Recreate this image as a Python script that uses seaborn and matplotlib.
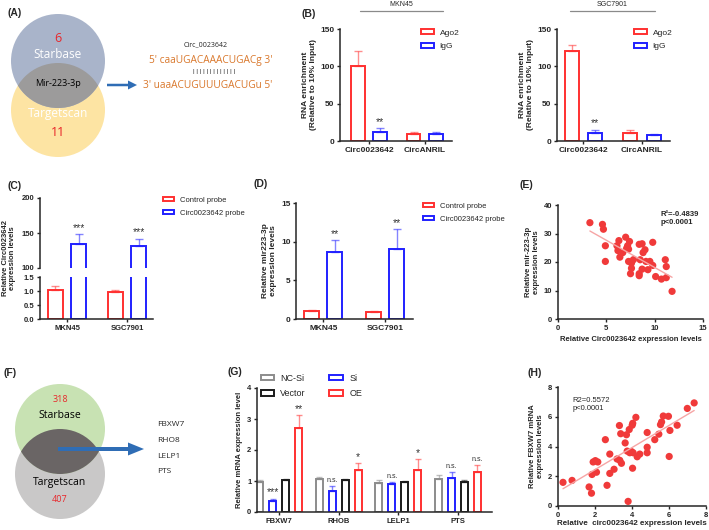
"""Composite figure: circ0023642 / miR-223-3p / FBXW7 panels."""

import matplotlib

matplotlib.use("Agg")

import matplotlib.pyplot as plt
import pandas as pd
import seaborn as sns
from matplotlib.patches import Circle, FancyArrow, Patch

FIG_W, FIG_H = 709, 530
RED = "#FF3030"
BLUE = "#2020FF"
GREY = "#8C8C8C"
BLACK = "#1A1A1A"
DOT = "#F03A3A"
FIT = "#F6A5A5"

# (A) Venn for miR prediction
venn_a_counts = [6, 11]
venn_a_sets = ["Starbase", "Targetscan"]
venn_a_shared = "Mir-223-3p"

# (B) RIP, Ago2 vs IgG
rip_targets = ["Circ0023642", "CircANRIL"]
rip_groups = ["Ago2", "IgG"]
rip_mkn45_ago2 = [101, 10]
rip_mkn45_ago2_err = [19, 2]
rip_mkn45_igg = [12, 9]
rip_mkn45_igg_err = [5, 3]
rip_sgc_ago2 = [121, 11]
rip_sgc_ago2_err = [8, 4]
rip_sgc_igg = [11, 8]
rip_sgc_igg_err = [4, 2]

# (C)/(D) pull-down
cell_lines = ["MKN45", "SGC7901"]
probe_groups = ["Control probe", "Circ0023642 probe"]
circ_control = [1.02, 0.97]
circ_control_err = [0.16, 0.05]
circ_probe = [135, 131]
circ_probe_err = [13, 11]
mir_control = [1.0, 0.9]
mir_control_err = [0.2, 0.1]
mir_probe = [8.6, 9.0]
mir_probe_err = [1.6, 2.6]

# (E) correlation circ vs mir-223-3p
e_circ = [3.3, 4.6, 4.7, 4.9, 4.9, 6.3, 6.1, 6.2, 6.4, 6.7, 7.0, 7.2, 7.3, 7.1,
          7.4, 7.3, 7.6, 7.5, 7.6, 7.8, 8.4, 8.7, 8.5, 8.8, 9.0, 8.7, 8.4, 8.4,
          9.1, 9.3, 9.5, 9.8, 9.8, 10.1, 11.1, 11.2, 10.7, 11.2, 11.8]
e_mir = [33.8, 33.2, 31.5, 25.7, 20.2, 27.5, 25.7, 24.0, 21.7, 23.3, 28.7, 25.7,
         24.5, 24.8, 27.2, 20.2, 19.6, 15.9, 17.8, 20.8, 26.2, 26.4, 20.8, 23.3,
         24.3, 17.5, 15.9, 15.2, 20.2, 17.3, 20.2, 26.9, 18.8, 14.9, 20.8, 18.4,
         14.0, 14.5, 9.7]

# (F) Venn for target genes
venn_f_counts = [318, 407]
target_genes = ["FBXW7", "RHO8", "LELP1", "PTS"]

# (G) qPCR of candidate targets
genes = ["FBXW7", "RHOB", "LELP1", "PTS"]
g_groups = ["NC-Si", "Si", "Vector", "OE"]
g_ncsi = [0.97, 1.05, 0.95, 1.07]
g_ncsi_err = [0.06, 0.08, 0.08, 0.12]
g_si = [0.35, 0.69, 0.89, 1.10]
g_si_err = [0.08, 0.16, 0.09, 0.20]
g_vector = [1.03, 1.03, 0.97, 0.97]
g_vector_err = [0.05, 0.04, 0.03, 0.05]
g_oe = [2.70, 1.34, 1.36, 1.29]
g_oe_err = [0.43, 0.23, 0.34, 0.23]
g_si_marks = ["***", "n.s.", "n.s.", "n.s."]
g_oe_marks = ["**", "*", "*", "n.s."]

# (H) correlation circ vs FBXW7
h_circ = [0.27, 0.76, 1.68, 1.81, 1.84, 1.90, 2.02, 2.15, 2.08, 2.56, 2.65, 2.80,
          2.80, 3.03, 3.19, 3.34, 3.43, 3.32, 3.39, 3.63, 3.70, 3.74, 3.79, 3.85,
          3.88, 3.97, 4.01, 4.04, 4.03, 4.06, 4.21, 4.28, 4.42, 4.82, 4.82, 4.82,
          5.23, 5.45, 5.54, 5.60, 5.69, 5.97, 6.01, 6.05, 6.44, 6.99, 7.36]
h_fbxw7 = [1.59, 1.72, 1.28, 0.86, 2.12, 2.96, 3.05, 2.96, 2.27, 4.46, 1.39, 3.49,
           2.19, 2.47, 3.16, 3.07, 2.87, 5.41, 4.86, 4.24, 4.79, 3.69, 0.31, 5.14,
           3.58, 3.66, 5.43, 5.56, 2.54, 3.58, 5.96, 3.31, 3.49, 4.94, 3.95, 3.58,
           4.46, 4.83, 5.47, 5.65, 6.05, 6.03, 3.33, 5.08, 5.43, 6.56, 6.93]


def px_rect(x0, y0, x1, y1):
    return [x0 / FIG_W, 1 - y1 / FIG_H, (x1 - x0) / FIG_W, (y1 - y0) / FIG_H]


def bar_frame(categories, groups, values, errors):
    rows = []
    for group, vals, errs in zip(groups, values, errors):
        for cat, val, err in zip(categories, vals, errs):
            rows.append({"category": cat, "group": group, "value": val, "err": err})
    return pd.DataFrame(rows)


def style_axis(ax, labelsize=5.5):
    sns.despine(ax=ax)
    for side in ("left", "bottom"):
        ax.spines[side].set_linewidth(1.1)
    ax.tick_params(length=2.5, width=1, labelsize=labelsize, pad=1.5)
    for label in ax.get_xticklabels() + ax.get_yticklabels():
        label.set_fontweight("bold")
    ax.set_facecolor("none")


def draw_bars(ax, frame, palette, width, gap, capsize=2.5):
    groups = list(palette)
    categories = list(dict.fromkeys(frame["category"]))
    sns.barplot(data=frame, x="category", y="value", hue="group", order=categories,
                hue_order=groups, palette=palette, fill=False, linewidth=1.4,
                width=width, gap=gap, errorbar=None, legend=False, ax=ax)
    positions = {}
    for group, container in zip(groups, ax.containers):
        sub = frame[frame["group"] == group].set_index("category").loc[categories]
        for bar, (cat, row) in zip(container, sub.iterrows()):
            x = bar.get_x() + bar.get_width() / 2
            positions[(cat, group)] = (x, row["value"] + row["err"])
            ax.errorbar(x, row["value"], yerr=[[0], [row["err"]]], fmt="none",
                        ecolor=palette[group], alpha=0.55, elinewidth=1,
                        capsize=capsize, capthick=1)
    ax.set_xlabel("")
    ax.set_ylabel("")
    return positions


def mark(ax, pos, text):
    # asterisks sit low in the font, so they get a bigger size than "n.s."
    size = 5 if text == "n.s." else 7.5
    ax.annotate(text, pos, xytext=(0, 1), textcoords="offset points",
                ha="center", va="bottom", fontsize=size, color="#333333")


def bar_legend(ax, canvas, labels, colors, anchor, fontsize=5.5, ncol=1, colspace=2.0):
    handles = [Patch(facecolor="white", edgecolor=c, linewidth=1.4) for c in colors]
    ax.legend(handles, labels, loc="upper left", bbox_to_anchor=anchor,
              bbox_transform=canvas.transData, frameon=False, borderpad=0,
              fontsize=fontsize, handlelength=1.5, handleheight=0.55,
              handletextpad=0.7, labelspacing=0.75, ncol=ncol, columnspacing=colspace)


sns.set_style("ticks")
plt.rcParams["font.family"] = ["Liberation Sans", "DejaVu Sans"]
plt.rcParams["axes.labelweight"] = "bold"

fig = plt.figure(figsize=(FIG_W / 100, FIG_H / 100), dpi=100)
canvas = fig.add_axes([0, 0, 1, 1], zorder=10)
canvas.set_xlim(0, FIG_W)
canvas.set_ylim(FIG_H, 0)
canvas.axis("off")
canvas.patch.set_visible(False)

# ---- (B) RIP
rip_palette = {"Ago2": RED, "IgG": BLUE}
for rect, ago, ago_err, igg, igg_err, xlim, anchor in [
    (px_rect(340, 29, 452, 141), rip_mkn45_ago2, rip_mkn45_ago2_err,
     rip_mkn45_igg, rip_mkn45_igg_err, (-0.52, 1.49), (417, 25)),
    (px_rect(557, 29, 670, 141), rip_sgc_ago2, rip_sgc_ago2_err,
     rip_sgc_igg, rip_sgc_igg_err, (-0.45, 1.48), (630, 25)),
]:
    ax = fig.add_axes(rect)
    frame = bar_frame(rip_targets, rip_groups, [ago, igg], [ago_err, igg_err])
    pos = draw_bars(ax, frame, rip_palette, width=0.8, gap=0.4, capsize=3)
    mark(ax, pos[("Circ0023642", "IgG")], "**")
    ax.set_xlim(*xlim)
    ax.set_ylim(0, 150)
    ax.set_yticks([0, 50, 100, 150])
    ax.set_ylabel("RNA enrichment\n(Relative to 10% Input)", fontsize=6, labelpad=2)
    style_axis(ax, 6)
    bar_legend(ax, canvas, rip_groups, [RED, BLUE], anchor, fontsize=6)

# ---- (C) broken-axis pull-down of circRNA
probe_palette = {"Control probe": RED, "Circ0023642 probe": BLUE}
circ_frame = bar_frame(cell_lines, probe_groups, [circ_control, circ_probe],
                       [circ_control_err, circ_probe_err])
ax_top = fig.add_axes(px_rect(40, 198, 153, 268))
ax_low = fig.add_axes(px_rect(40, 277, 153, 319))
pos = draw_bars(ax_top, circ_frame, probe_palette, width=0.78, gap=0.36, capsize=3)
draw_bars(ax_low, circ_frame, probe_palette, width=0.78, gap=0.36, capsize=3)
for line in cell_lines:
    mark(ax_top, pos[(line, "Circ0023642 probe")], "***")
ax_top.set_ylim(100, 200)
ax_top.set_yticks([100, 150, 200])
ax_low.set_ylim(0, 1.5)
ax_low.set_yticks([0, 0.5, 1.0, 1.5])
ax_low.set_yticklabels(["0.0", "0.5", "1.0", "1.5"])
for ax in (ax_top, ax_low):
    ax.set_xlim(-0.45, 1.43)
style_axis(ax_low)
style_axis(ax_top)
ax_top.spines["bottom"].set_visible(False)
ax_top.tick_params(axis="x", bottom=False, labelbottom=False)
canvas.text(9, 258, "Relative Circ0023642\nexpression levels", rotation=90,
            ha="center", va="center", fontsize=5.5, fontweight="bold", linespacing=1.1)
bar_legend(ax_low, canvas, probe_groups, [RED, BLUE], (159, 193))

# ---- (D) pull-down of miR
mir_frame = bar_frame(cell_lines, probe_groups, [mir_control, mir_probe],
                      [mir_control_err, mir_probe_err])
ax = fig.add_axes(px_rect(296, 203, 413, 319))
pos = draw_bars(ax, mir_frame, probe_palette, width=0.74, gap=0.35, capsize=3)
for line in cell_lines:
    mark(ax, pos[(line, "Circ0023642 probe")], "**")
ax.set_xlim(-0.44, 1.45)
ax.set_ylim(0, 15)
ax.set_yticks([0, 5, 10, 15])
ax.set_ylabel("Relative mir223-3p\nexpression levels", fontsize=6, labelpad=3)
style_axis(ax, 6)
bar_legend(ax, canvas, probe_groups, [RED, BLUE], (419, 199))

# ---- (E) correlation
ax = fig.add_axes(px_rect(558, 205, 703, 319))
sns.scatterplot(x=e_circ, y=e_mir, color=DOT, s=27, edgecolor="none", ax=ax)
sns.regplot(x=e_circ, y=e_mir, scatter=False, ci=None, color=FIT,
            line_kws={"lw": 1}, ax=ax)
ax.set_xlim(0, 15)
ax.set_ylim(0, 40)
ax.set_xticks([0, 5, 10, 15])
ax.set_yticks([0, 10, 20, 30, 40])
ax.set_xlabel("Relative Circ0023642 expression levels", fontsize=5.5, labelpad=3)
ax.set_ylabel("Relative mir-223-3p\nexpression levels", fontsize=5.5, labelpad=3)
style_axis(ax)
ax.text(0.71, 0.95, "R\u00b2=-0.4839\np<0.0001", transform=ax.transAxes, ha="left",
        va="top", fontsize=5.5, fontweight="bold", linespacing=1.2)

# ---- (G) qPCR of targets
g_palette = {"NC-Si": GREY, "Si": BLUE, "Vector": BLACK, "OE": RED}
g_frame = bar_frame(genes, g_groups, [g_ncsi, g_si, g_vector, g_oe],
                    [g_ncsi_err, g_si_err, g_vector_err, g_oe_err])
ax = fig.add_axes(px_rect(257, 388, 492, 512))
pos = draw_bars(ax, g_frame, g_palette, width=0.87, gap=0.46, capsize=2)
for gene, si_mark, oe_mark in zip(genes, g_si_marks, g_oe_marks):
    mark(ax, pos[(gene, "Si")], si_mark)
    mark(ax, pos[(gene, "OE")], oe_mark)
ax.set_xlim(-0.37, 3.57)
ax.set_ylim(0, 4)
ax.set_yticks([0, 1, 2, 3, 4])
ax.set_ylabel("Relative mRNA expression level", fontsize=5.5, labelpad=3)
style_axis(ax)
bar_legend(ax, canvas, ["NC-Si", "Vector", "Si", "OE"], [GREY, BLACK, BLUE, RED],
           (256, 369), fontsize=6.5, ncol=2, colspace=2.6)

# ---- (H) correlation
ax = fig.add_axes(px_rect(558, 387, 706, 506))
sns.scatterplot(x=h_circ, y=h_fbxw7, color=DOT, s=27, edgecolor="none", ax=ax)
sns.regplot(x=h_circ, y=h_fbxw7, scatter=False, ci=None, color=FIT,
            line_kws={"lw": 1}, ax=ax)
ax.set_xlim(0, 8)
ax.set_ylim(0, 8)
ax.set_xticks([0, 2, 4, 6, 8])
ax.set_yticks([0, 2, 4, 6, 8])
ax.set_xlabel("Relative  circ0023642 expression levels", fontsize=5.8, labelpad=1)
ax.set_ylabel("Relative FBXW7 mRNA\nexpression levels", fontsize=5.5, labelpad=3)
style_axis(ax)
ax.text(0.1, 0.92, "R2=0.5572\np<0.0001", transform=ax.transAxes, ha="left",
        va="top", fontsize=5.5, linespacing=1.2)

# ---- (A) Venn + binding site
venn_font = ["Open Sans", "DejaVu Sans"]
top = Circle((58, 61), 47, color="#A9B4CA", lw=0)
low = Circle((58, 110), 47, color="#FDE4A3", lw=0)
canvas.add_patch(low)
canvas.add_patch(top)
both = Circle((58, 110), 47, color="#9C9B9B", lw=0)
canvas.add_patch(both)
both.set_clip_path(top)
canvas.text(58, 38, str(venn_a_counts[0]), color="#E8262A", fontsize=9, ha="center", va="center", family=venn_font)
canvas.text(58, 55, venn_a_sets[0], color="white", fontsize=8.5, ha="center", va="center", family=venn_font)
canvas.text(58, 84, venn_a_shared, color="black", fontsize=6.5, ha="center", va="center", family=venn_font)
canvas.text(58, 114, venn_a_sets[1], color="white", fontsize=8.5, ha="center", va="center", family=venn_font)
canvas.text(58, 132, str(venn_a_counts[1]), color="#E8262A", fontsize=9, ha="center", va="center", family=venn_font)
canvas.add_patch(FancyArrow(107, 85, 30, 0, width=2.5, head_width=9, head_length=9,
                            length_includes_head=True, color="#2F6DB5", lw=0))
seq_color = "#D9772B"
canvas.text(206, 45, "Circ_0023642", fontsize=5, ha="center", va="center", family=venn_font)
canvas.text(211, 60, "5' caaUGACAAACUGACg 3'", color=seq_color, fontsize=7.3,
            ha="center", va="center", family=venn_font)
canvas.text(214, 72, " ".join(["|"] * 13), fontsize=4.5, ha="center", va="center", color="#333333")
canvas.text(208, 85, "3' uaaACUGUUUGACUGu 5'", color=seq_color, fontsize=7.3,
            ha="center", va="center", family=venn_font)

# ---- (F) Venn + gene list
top = Circle((60, 429), 45, color="#C8E2B3", lw=0)
low = Circle((60, 474), 45, color="#C9C8C8", lw=0)
canvas.add_patch(low)
canvas.add_patch(top)
both = Circle((60, 474), 45, color="#6A6565", lw=0)
canvas.add_patch(both)
both.set_clip_path(top)
canvas.text(60, 399, str(venn_f_counts[0]), color="#E8262A", fontsize=6.5, ha="center", va="center", family=venn_font)
canvas.text(60, 416, venn_a_sets[0], color="black", fontsize=7.5, ha="center", va="center", family=venn_font)
canvas.text(60, 483, venn_a_sets[1], color="black", fontsize=7.5, ha="center", va="center", family=venn_font)
canvas.text(60, 499, str(venn_f_counts[1]), color="#E8262A", fontsize=6.5, ha="center", va="center", family=venn_font)
canvas.add_patch(FancyArrow(58, 449, 86, 0, width=4, head_width=13, head_length=16,
                            length_includes_head=True, color="#2F6DB5", lw=0))
for i, gene in enumerate(target_genes):
    canvas.text(157, 425 + i * 15.5, gene, fontsize=6, ha="left", va="center", family=venn_font)

# ---- headers and panel letters
for x0, x1, name in [(360, 443, "MKN45"), (570, 655, "SGC7901")]:
    canvas.plot([x0, x1], [11, 11], color="#8A8A8A", lw=0.9)
    canvas.text((x0 + x1) / 2, 4, name, fontsize=5, ha="center", va="center")
for x, y, letter in [(7, 13, "(A)"), (302, 14, "(B)"), (7, 186, "(C)"), (253, 184, "(D)"),
                     (520, 185, "(E)"), (3, 373, "(F)"), (227, 372, "(G)"), (527, 373, "(H)")]:
    canvas.text(x, y, letter, fontsize=7.5, fontweight="bold", ha="left", va="center")

fig.savefig("out.png", dpi=100)
plt.close(fig)
